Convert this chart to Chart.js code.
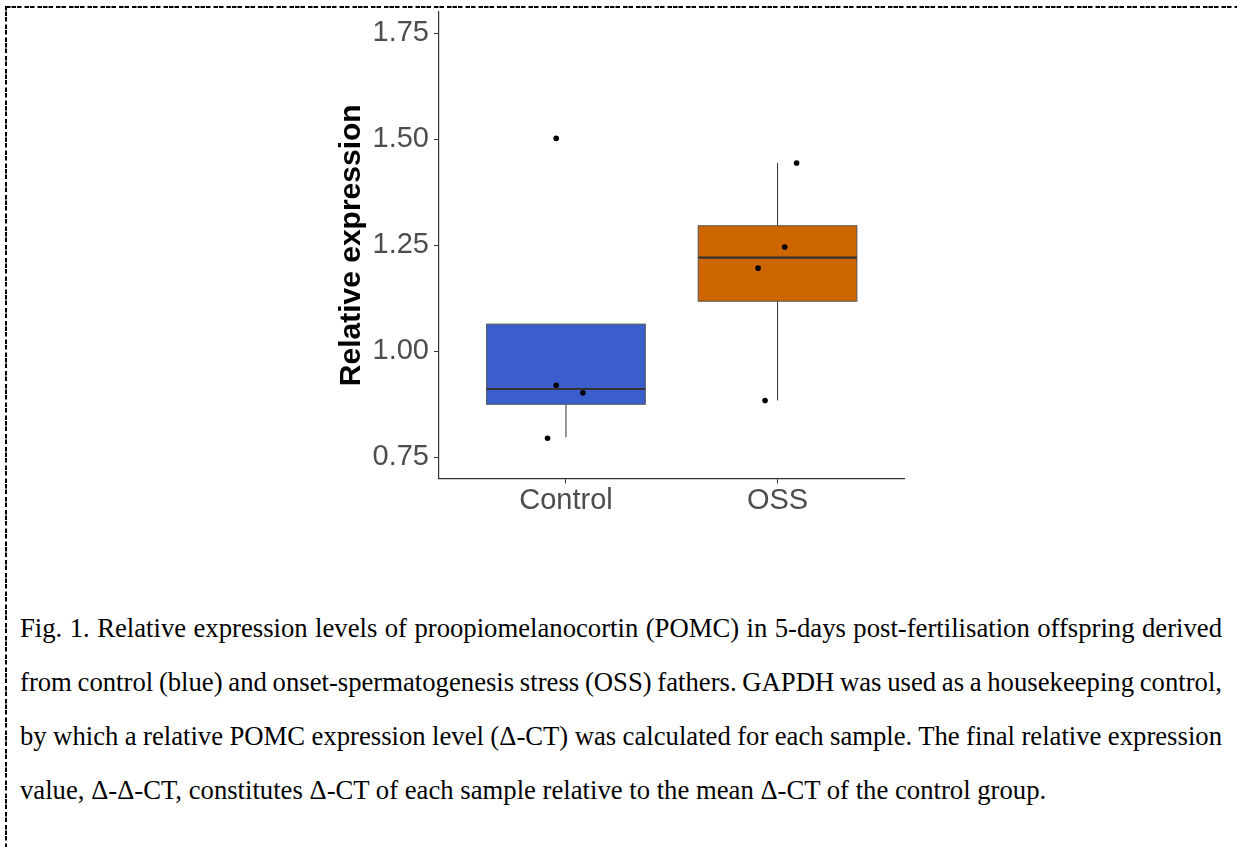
<!DOCTYPE html>
<html>
<head>
<meta charset="utf-8">
<script src="https://cdn.jsdelivr.net/npm/chart.js@4"></script>
<style>
  html, body { margin: 0; padding: 0; background: #fff; }
  body { width: 1237px; height: 847px; position: relative; overflow: hidden; }
  #frame { position: absolute; left: 0; top: 0; }
  #chart-wrap { position: absolute; left: 0; top: 0; width: 1237px; height: 540px; }
  #caption {
    position: absolute; left: 20px; top: 601px; width: 1202px;
    font-family: 'Liberation Serif', 'Times New Roman', serif;
    font-size: 26.7px; line-height: 54px; color: #000;
  }
  #caption .full { text-align: justify; text-align-last: justify; white-space: nowrap; word-spacing: -2px; }
  #caption .last { text-align: left; white-space: nowrap; }
</style>
</head>
<body>
<svg id="frame" width="1237" height="847">
  <line x1="6" y1="7" x2="1237" y2="7" stroke="#000" stroke-width="2" stroke-dasharray="4.5 1 4.5 1 4.5 3 4.5 1 4.5 3"></line>
  <line x1="6" y1="6" x2="6" y2="847" stroke="#000" stroke-width="2" stroke-dasharray="4.5 1 4.5 1 4.5 3 4.5 1 4.5 3"></line>
</svg>
<div id="chart-wrap"><canvas id="boxChart"></canvas></div>
<div id="caption">
  <div class="full">Fig. 1. Relative expression levels of proopiomelanocortin (POMC) in 5-days post-fertilisation offspring derived</div>
  <div class="full">from control (blue) and onset-spermatogenesis stress (OSS) fathers. GAPDH was used as a housekeeping control,</div>
  <div class="full">by which a relative POMC expression level (Δ-CT) was calculated for each sample. The final relative expression</div>
  <div class="last">value, Δ-Δ-CT, constitutes Δ-CT of each sample relative to the mean Δ-CT of the control group.</div>
</div>
<script>
// groups and samples
const groups = ['Control', 'OSS'];
const controlValues = [1.502, 0.920, 0.902, 0.795];
const controlJitter = [-0.046, -0.046, 0.08, -0.087];
const ossValues = [1.444, 1.246, 1.196, 0.884];
const ossJitter = [0.09, 0.034, -0.092, -0.059];

// box summaries per group
const whiskerLow = [0.797, 0.884];
const q1 = [0.875, 1.118];
const median = [0.911, 1.221];
const q3 = [1.064, 1.296];
const whiskerHigh = [1.064, 1.444];

const yTicks = [0.75, 1.00, 1.25, 1.50, 1.75];
const boxColors = ['#3A5FCD', '#CD6600'];

const toPoints = (values, jitter, idx) => values.map((v, i) => ({ x: idx + jitter[i], y: v }));

const boxPlugin = {
  id: 'boxes',
  beforeDatasetsDraw(chart) {
    const { ctx, scales: { x, y } } = chart;
    ctx.save();
    groups.forEach((g, i) => {
      const left = x.getPixelForValue(i - 0.375);
      const right = x.getPixelForValue(i + 0.375);
      const mid = x.getPixelForValue(i);
      const top = y.getPixelForValue(q3[i]);
      const bottom = y.getPixelForValue(q1[i]);

      // whiskers
      ctx.strokeStyle = '#333';
      ctx.lineWidth = 1;
      ctx.beginPath();
      ctx.moveTo(mid, top);
      ctx.lineTo(mid, y.getPixelForValue(whiskerHigh[i]));
      ctx.moveTo(mid, bottom);
      ctx.lineTo(mid, y.getPixelForValue(whiskerLow[i]));
      ctx.stroke();

      // box
      ctx.fillStyle = boxColors[i];
      ctx.fillRect(left, top, right - left, bottom - top);
      ctx.strokeStyle = '#555';
      ctx.lineWidth = 1;
      ctx.strokeRect(left, top, right - left, bottom - top);

      // median
      const my = y.getPixelForValue(median[i]);
      ctx.strokeStyle = '#333';
      ctx.lineWidth = 2.2;
      ctx.beginPath();
      ctx.moveTo(left, my);
      ctx.lineTo(right, my);
      ctx.stroke();
    });
    ctx.restore();
  }
};

const tickFont = { family: "'Liberation Sans', Arial, sans-serif", size: 29 };

new Chart(document.getElementById('boxChart'), {
  type: 'scatter',
  data: {
    datasets: [
      { data: toPoints(controlValues, controlJitter, 0) },
      { data: toPoints(ossValues, ossJitter, 1) }
    ]
  },
  options: {
    responsive: true,
    maintainAspectRatio: false,
    animation: false,
    layout: { padding: { left: 334, top: 12, right: 332.5, bottom: 0 } },
    elements: {
      point: { radius: 2.8, backgroundColor: '#000', borderWidth: 0, hoverRadius: 2.8 }
    },
    plugins: {
      legend: { display: false },
      tooltip: { enabled: false }
    },
    scales: {
      x: {
        type: 'linear',
        min: -0.6,
        max: 1.6,
        afterBuildTicks: axis => { axis.ticks = groups.map((g, i) => ({ value: i })); },
        afterFit: axis => { axis.height = 61.5; axis.paddingLeft = 0; axis.paddingRight = 0; },
        ticks: {
          font: tickFont,
          color: '#4d4d4d',
          padding: 0,
          callback: v => groups[v]
        },
        grid: { drawOnChartArea: false, drawTicks: true, tickLength: 5, color: '#333', lineWidth: 1 },
        border: { display: true, color: '#333', width: 1.2 }
      },
      y: {
        min: 0.7,
        max: 1.8,
        afterBuildTicks: axis => { axis.ticks = yTicks.map(v => ({ value: v })); },
        afterFit: axis => { axis.width = 105; axis.paddingTop = 0; axis.paddingBottom = 0; },
        ticks: {
          font: tickFont,
          color: '#4d4d4d',
          padding: 5,
          callback: v => v.toFixed(2)
        },
        grid: { drawOnChartArea: false, drawTicks: true, tickLength: 5, color: '#333', lineWidth: 1 },
        border: { display: true, color: '#333', width: 1.2 },
        title: {
          display: true,
          text: 'Relative expression',
          color: '#000',
          font: { family: "'Liberation Sans', Arial, sans-serif", size: 30, weight: 'bold' },
          padding: { top: 0, bottom: 0 }
        }
      }
    }
  },
  plugins: [boxPlugin]
});
</script>
</body>
</html>
